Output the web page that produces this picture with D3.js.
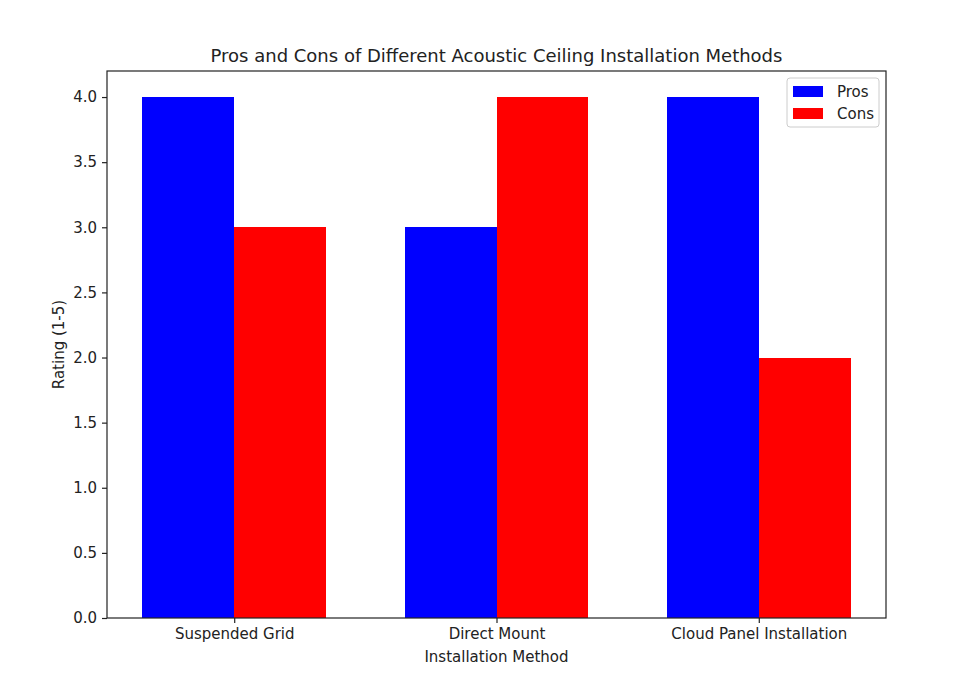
<!DOCTYPE html>
<html><head><meta charset="utf-8">
<script src="https://cdn.jsdelivr.net/npm/d3@7"></script>
<style>body{margin:0;background:#fff}svg{display:block}text{font-family:"DejaVu Sans",sans-serif;fill:#222}</style>
</head><body>
<script>
const categories = ["Suspended Grid", "Direct Mount", "Cloud Panel Installation"];
const pros = [4, 3, 4];
const cons = [3, 4, 2];
const seriesNames = ["Pros", "Cons"];
const seriesColors = ["#0000ff", "#ff0000"];
const yTicks = [0, 0.5, 1.0, 1.5, 2.0, 2.5, 3.0, 3.5, 4.0];

const W = 956, H = 677;
const L = 107, R = 886, T = 71, B = 618;
const barW = 0.35;
const FS = "15px";
const svg = d3.select("body").append("svg").attr("width", W).attr("height", H);

const x = d3.scaleLinear().domain([-0.485, 2.485]).range([L, R]);
const y = d3.scaleLinear().domain([0, 4.2]).range([B, T]);

const series = [pros, cons];
series.forEach((vals, si) => {
  svg.append("g").attr("shape-rendering", "crispEdges").selectAll("rect").data(vals).join("rect")
    .attr("x", (d, i) => x(i + (si === 0 ? -barW : 0)))
    .attr("width", x(barW) - x(0))
    .attr("y", d => y(d))
    .attr("height", d => y(0) - y(d))
    .attr("fill", seriesColors[si]);
});

// axes
const yAxis = d3.axisLeft(y).tickValues(yTicks).tickFormat(d3.format(".1f")).tickSize(5).tickPadding(5);
const gy = svg.append("g").attr("transform", `translate(${L},0)`).call(yAxis);
const xAxis = d3.axisBottom(x).tickValues([0,1,2]).tickFormat(i => categories[i]).tickSize(5).tickPadding(5);
const gx = svg.append("g").attr("transform", `translate(0,${B})`).call(xAxis);
[gx, gy].forEach(g => {
  g.select(".domain").remove();
  g.selectAll("line").attr("stroke", "#222").attr("stroke-width", 1.2);
  g.selectAll("text").attr("font-size", FS).attr("font-family", "DejaVu Sans, sans-serif").attr("fill", "#222");
});

svg.append("rect").attr("x", L).attr("y", T).attr("width", R - L).attr("height", B - T)
  .attr("fill", "none").attr("stroke", "#222").attr("stroke-width", 1.2);

svg.append("text").attr("x", (L + R) / 2).attr("y", 62).attr("text-anchor", "middle")
  .attr("font-size", "18px").text("Pros and Cons of Different Acoustic Ceiling Installation Methods");
svg.append("text").attr("x", (L + R) / 2).attr("y", 662).attr("text-anchor", "middle")
  .attr("font-size", FS).text("Installation Method");
svg.append("text").attr("transform", `translate(64,${(T + B) / 2}) rotate(-90)`).attr("text-anchor", "middle")
  .attr("font-size", FS).text("Rating (1-5)");

// legend
const lg = svg.append("g").attr("transform", "translate(787,78)");
lg.append("rect").attr("width", 92).attr("height", 49).attr("rx", 3)
  .attr("fill", "#fff").attr("fill-opacity", 0.8).attr("stroke", "#ccc").attr("stroke-width", 1);
seriesNames.forEach((n, i) => {
  lg.append("rect").attr("x", 6).attr("y", 8 + i * 22).attr("width", 30).attr("height", 11).attr("fill", seriesColors[i]);
  lg.append("text").attr("x", 50).attr("y", 19 + i * 22).attr("font-size", FS).text(n);
});
</script>
</body></html>
